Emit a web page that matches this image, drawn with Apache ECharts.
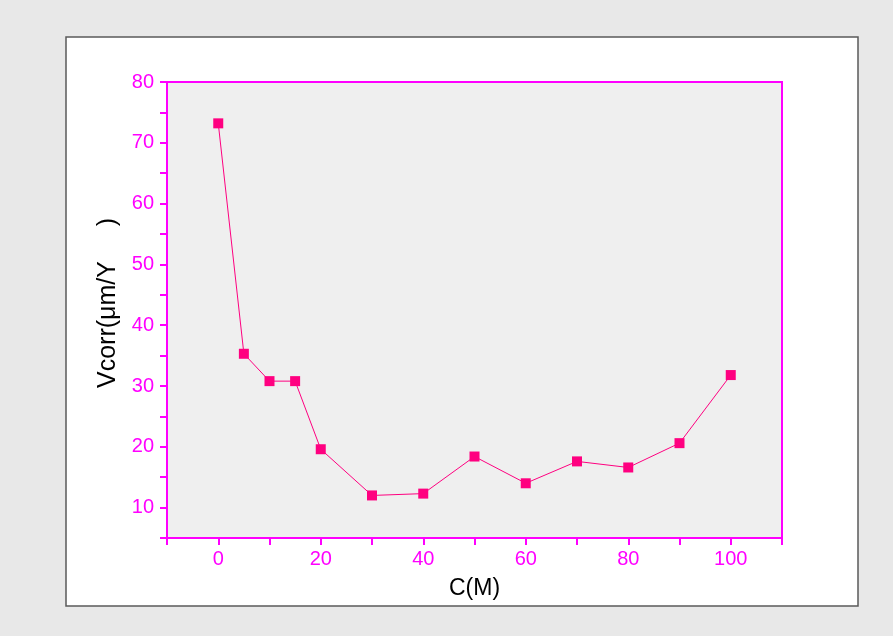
<!DOCTYPE html>
<html>
<head>
<meta charset="utf-8">
<script src="https://cdn.jsdelivr.net/npm/echarts@6/dist/echarts.min.js"></script>
<style>
  html, body { margin: 0; padding: 0; background: #e8e8e8; }
  #chart { width: 893px; height: 636px; }
</style>
</head>
<body>
<div id="chart"></div>
<script>
// Corrosion rate versus concentration
const concentrations = [0, 5, 10, 15, 20, 30, 40, 50, 60, 70, 80, 90, 100];
const vcorr = [73.2, 35.3, 30.8, 30.8, 19.6, 12.0, 12.3, 18.4, 14.0, 17.6, 16.6, 20.6, 31.8];

const xTicks = [0, 20, 40, 60, 80, 100];
const yTicks = [10, 20, 30, 40, 50, 60, 70, 80];

const MAGENTA = '#ff00ff';
const MARK = '#ff0080';
const FONT = '"Liberation Sans", Arial, sans-serif';

const chart = echarts.init(document.getElementById('chart'), null, { renderer: 'canvas' });

const points = concentrations.map((c, i) => [c, vcorr[i]]);

chart.setOption({
  backgroundColor: '#e8e8e8',
  animation: false,
  graphic: [
    {
      type: 'rect',
      z: -10,
      shape: { x: 66, y: 37, width: 792, height: 569 },
      style: { fill: '#ffffff', stroke: '#5a5a5a', lineWidth: 1.5 }
    }
  ],
  grid: {
    left: 167, right: 111, top: 82, bottom: 98,
    show: true,
    backgroundColor: '#efefef',
    borderColor: MAGENTA,
    borderWidth: 2
  },
  xAxis: [
    {
      type: 'value',
      min: -10, max: 110, interval: 10,
      name: 'C(M)',
      nameLocation: 'middle',
      nameGap: 39,
      nameTextStyle: { color: '#000', fontSize: 23, fontFamily: FONT },
      axisLine: { show: true, onZero: false, lineStyle: { color: MAGENTA, width: 2 } },
      axisTick: { show: true, length: 7, lineStyle: { color: MAGENTA, width: 2 } },
      axisLabel: {
        color: MAGENTA, fontSize: 20, margin: 11,
        fontFamily: FONT,
        formatter: v => (xTicks.indexOf(v) >= 0 ? String(v) : '')
      },
      splitLine: { show: false }
    },
    {
      type: 'value',
      position: 'top',
      min: -10, max: 110, interval: 10,
      axisLine: { show: true, onZero: false, lineStyle: { color: MAGENTA, width: 2 } },
      axisTick: { show: true, inside: false, length: 1, lineStyle: { color: MAGENTA, width: 1 } },
      axisLabel: { show: false },
      splitLine: { show: false }
    }
  ],
  yAxis: [
    {
      type: 'value',
      min: 5, max: 80, interval: 5,
      name: 'Vcorr(\u03bcm/Y     )',
      nameLocation: 'middle',
      nameGap: 41,
      nameTextStyle: { color: '#000', fontSize: 25, fontFamily: FONT, padding: [0, 0, 0, 14] },
      axisLine: { show: true, onZero: false, lineStyle: { color: MAGENTA, width: 2 } },
      axisTick: { show: true, length: 7, lineStyle: { color: MAGENTA, width: 2 } },
      axisLabel: {
        color: MAGENTA, fontSize: 20, margin: 13,
        fontFamily: FONT,
        formatter: v => (yTicks.indexOf(v) >= 0 ? String(v) : '')
      },
      splitLine: { show: false }
    },
    {
      type: 'value',
      position: 'right',
      min: 5, max: 80, interval: 5,
      axisLine: { show: true, onZero: false, lineStyle: { color: MAGENTA, width: 2 } },
      axisTick: { show: false },
      axisLabel: { show: false },
      splitLine: { show: false }
    }
  ],
  series: [
    {
      type: 'line',
      data: points,
      xAxisIndex: 0,
      yAxisIndex: 0,
      symbol: 'rect',
      symbolSize: 10,
      itemStyle: { color: MARK },
      lineStyle: { color: MARK, width: 1 }
    }
  ]
});
</script>
</body>
</html>
